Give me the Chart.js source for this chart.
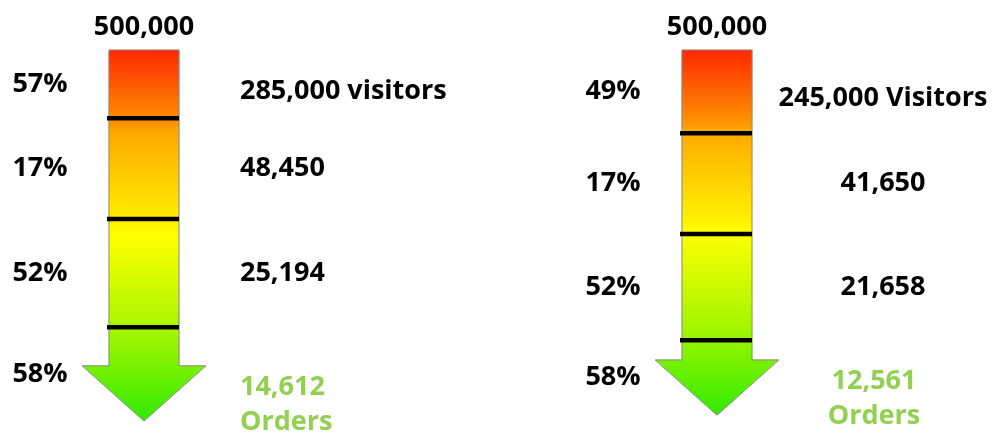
<!DOCTYPE html>
<html>
<head>
<meta charset="utf-8">
<script src="https://cdn.jsdelivr.net/npm/chart.js@4.4.1/dist/chart.umd.min.js"></script>
<style>
	html, body { margin: 0; padding: 0; background: #fff; }
	#wrap { width: 998px; height: 434px; }
</style>
</head>
<body>
<div id="wrap"><canvas id="chart"></canvas></div>
<script>
// two funnels, same 500k start
const scenarios = ['Current', 'Improved'];
const stages = ['Visitors', 'Step 2', 'Step 3', 'Orders'];
const startTotals = [500000, 500000];
const ratesA = [57, 17, 52, 58];
const ratesB = [49, 17, 52, 58];
const countsA = [285000, 48450, 25194, 14612];
const countsB = [245000, 41650, 21658, 12561];
const suffixA = ['visitors', '', '', 'Orders'];
const suffixB = ['Visitors', '', '', 'Orders'];

// stage boundaries along the arrow (0 = top, ~100 = tip)
const edgesA = [0, 18.5, 45.9, 75.3, 100.8];
const edgesB = [0, 22.6, 50, 78.8, 99.2];

const rates = [ratesA, ratesB];
const counts = [countsA, countsB];
const suffixes = [suffixA, suffixB];
const edges = [edgesA, edgesB];

const HEAD = 15;          // arrow head length in y units
const FONT = '700 27px "Open Sans"';
const ORDER_GREEN = '#92d050';

// label layout per funnel
const countDx = [96, 166];
const countAlign = ['left', 'center'];
const ordersDx = [96, 157];
const firstCountDy = 7;

const fmt = n => n.toLocaleString('en-US');

const gradFor = (chart, i) => {
	const y = chart.scales.y;
	const e = edges[i];
	const g = chart.ctx.createLinearGradient(0, y.getPixelForValue(e[0]), 0, y.getPixelForValue(e[e.length - 1]));
	g.addColorStop(0, '#ff2800');
	g.addColorStop(0.2, '#ff9400');
	g.addColorStop(0.22, '#ffa800');
	g.addColorStop(0.47, '#fff200');
	g.addColorStop(0.5, '#ffff00');
	g.addColorStop(0.76, '#a4f600');
	g.addColorStop(1, '#30ea00');
	return g;
};

const datasets = stages.map((name, k) => ({
	label: name,
	data: scenarios.map((s, i) => {
		const e = edges[i];
		const end = k === stages.length - 1 ? e[k + 1] - HEAD : e[k + 1];
		return { x: i, y: [e[k], end] };
	}),
	backgroundColor: ctx => ctx.chart.chartArea ? gradFor(ctx.chart, ctx.dataIndex) : '#ff0',
	borderWidth: 0,
	barThickness: 70,
	grouped: false
}));

const arrowPlugin = {
	id: 'arrowParts',
	afterDatasetsDraw(chart) {
		const ctx = chart.ctx;
		const yScale = chart.scales.y;
		const n = stages.length;
		scenarios.forEach((s, i) => {
			const first = chart.getDatasetMeta(0).data[i];
			const last = chart.getDatasetMeta(n - 1).data[i];
			const half = first.width / 2;
			const cx = first.x;
			const top = Math.min(first.y, first.base);
			const shoulder = Math.max(last.y, last.base);
			const tip = yScale.getPixelForValue(edges[i][n]);
			const headHalf = half * 1.77;

			ctx.save();
			// head
			ctx.beginPath();
			ctx.moveTo(cx - headHalf, shoulder - 0.5);
			ctx.lineTo(cx + headHalf, shoulder - 0.5);
			ctx.lineTo(cx, tip);
			ctx.closePath();
			ctx.fillStyle = gradFor(chart, i);
			ctx.fill();

			// outline
			ctx.beginPath();
			ctx.moveTo(cx - half, top);
			ctx.lineTo(cx + half, top);
			ctx.lineTo(cx + half, shoulder);
			ctx.lineTo(cx + headHalf, shoulder);
			ctx.lineTo(cx, tip);
			ctx.lineTo(cx - headHalf, shoulder);
			ctx.lineTo(cx - half, shoulder);
			ctx.closePath();
			ctx.strokeStyle = '#8c8c8c';
			ctx.lineWidth = 1;
			ctx.stroke();

			// stage separators
			ctx.strokeStyle = '#000';
			ctx.lineWidth = 4.5;
			for (let k = 0; k < n - 1; k++) {
				const bar = chart.getDatasetMeta(k).data[i];
				const yy = Math.max(bar.y, bar.base);
				ctx.beginPath();
				ctx.moveTo(cx - half - 2, yy);
				ctx.lineTo(cx + half, yy);
				ctx.stroke();
			}

			// labels
			ctx.font = FONT;
			ctx.fillStyle = '#000';
			ctx.textAlign = 'center';
			ctx.textBaseline = 'alphabetic';
			ctx.fillText(fmt(startTotals[i]), cx, top - 15);

			ctx.textBaseline = 'middle';
			for (let k = 0; k < n; k++) {
				const bar = chart.getDatasetMeta(k).data[i];
				const segTop = Math.min(bar.y, bar.base);
				const segBot = k === n - 1 ? tip : Math.max(bar.y, bar.base);
				const mid = (segTop + segBot) / 2;
				ctx.fillStyle = '#000';
				ctx.textAlign = 'center';
				ctx.fillText(rates[i][k] + '%', cx - 104, mid);

				if (k < n - 1) {
					const txt = fmt(counts[i][k]) + (suffixes[i][k] ? ' ' + suffixes[i][k] : '');
					ctx.textAlign = countAlign[i];
					ctx.fillText(txt, cx + countDx[i], mid + (k === 0 ? firstCountDy : 0));
				} else {
					ctx.fillStyle = ORDER_GREEN;
					ctx.textAlign = countAlign[i];
					ctx.fillText(fmt(counts[i][k]), cx + ordersDx[i], tip - 34);
					ctx.fillText(suffixes[i][k], cx + ordersDx[i], tip + 1);
				}
			}
			ctx.restore();
		});
	}
};

new Chart(document.getElementById('chart'), {
	type: 'bar',
	data: { datasets },
	options: {
		responsive: true,
		maintainAspectRatio: false,
		animation: false,
		layout: { padding: 0 },
		plugins: {
			legend: { display: false },
			tooltip: { enabled: false }
		},
		scales: {
			x: {
				type: 'linear',
				display: false,
				offset: false,
				min: -0.2513,
				max: 1.4904
			},
			y: {
				display: false,
				reverse: true,
				min: -13.6,
				max: 104.3
			}
		}
	},
	plugins: [arrowPlugin]
});
</script>
</body>
</html>
